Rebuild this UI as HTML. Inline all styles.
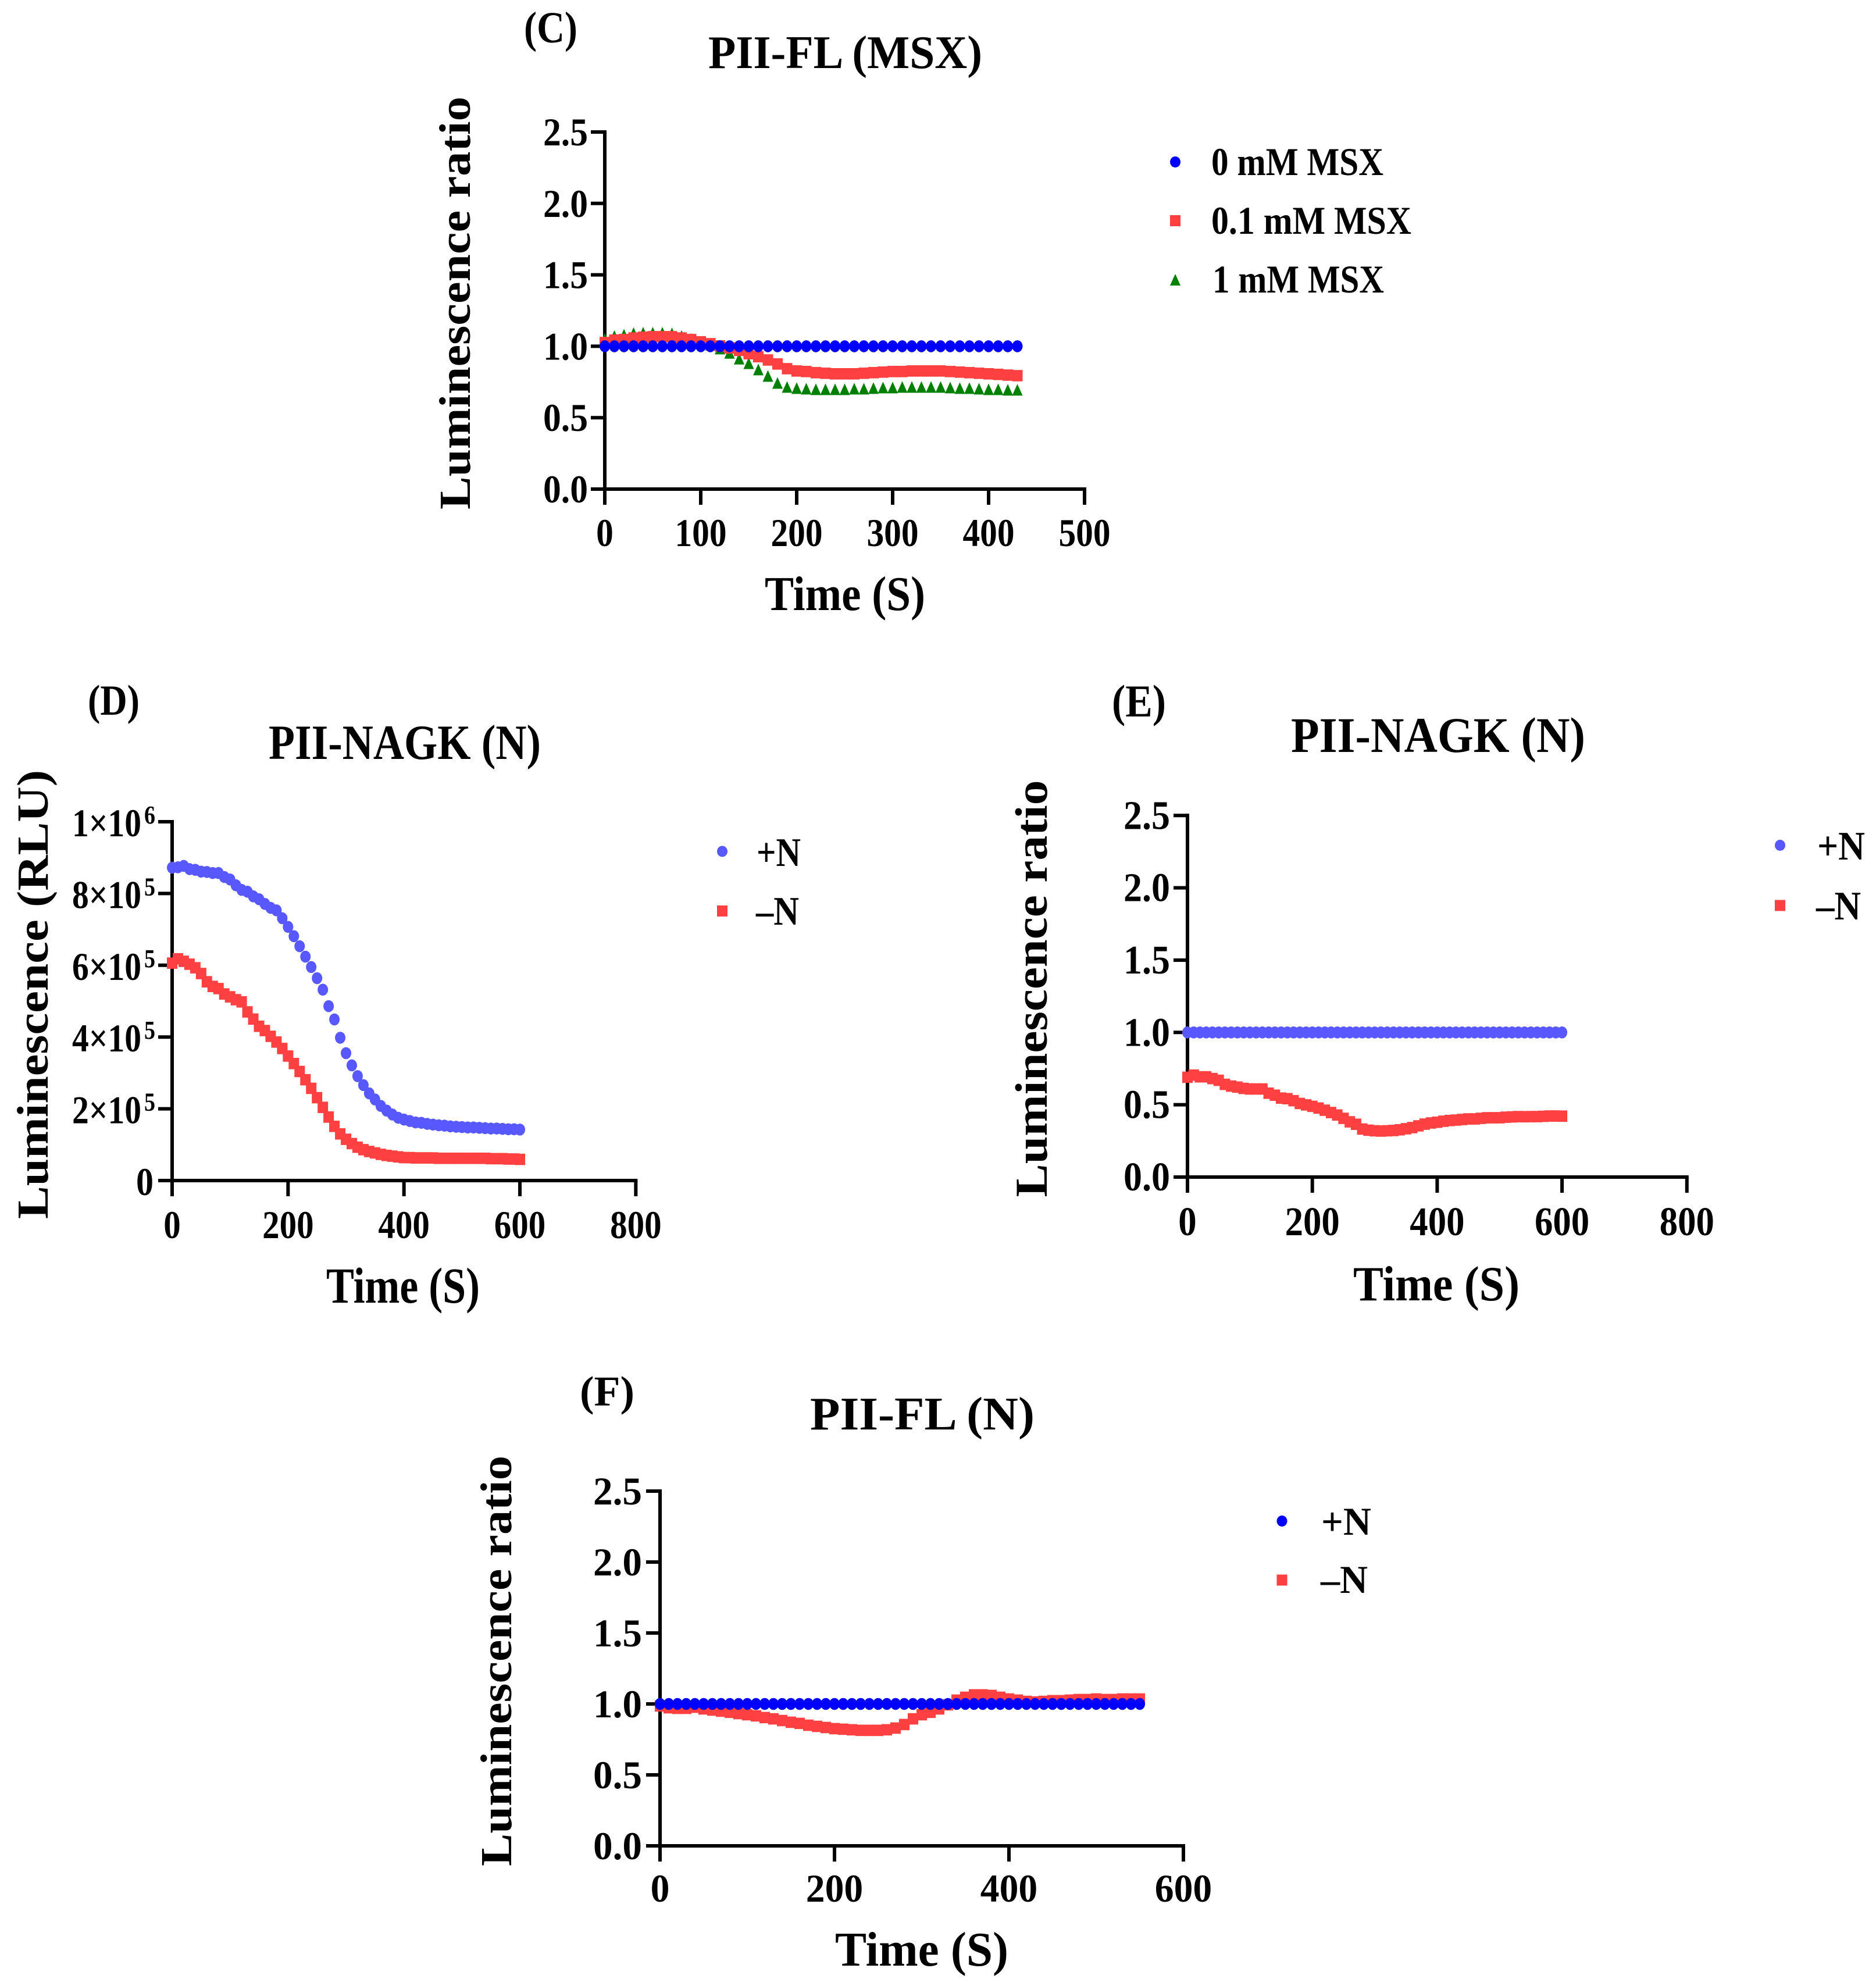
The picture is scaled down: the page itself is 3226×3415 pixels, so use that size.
<!DOCTYPE html>
<html lang="en">
<head>
<meta charset="utf-8">
<title>Luminescence time courses</title>
<style>
html,body{margin:0;padding:0;background:#fff;}
svg{display:block;}
text{font-family:"Liberation Serif","DejaVu Serif",serif;font-weight:bold;fill:#000;}
</style>
</head>
<body>
<svg id="figure" xmlns="http://www.w3.org/2000/svg" width="3226" height="3415" viewBox="0 0 3226 3415">
  <rect x="0" y="0" width="3226" height="3415" fill="#ffffff"/>

  <!-- Panel C -->
  <text x="901" y="73" font-size="76" textLength="92" lengthAdjust="spacingAndGlyphs">(C)</text>
  <text x="1218" y="117" font-size="80" textLength="471" lengthAdjust="spacingAndGlyphs">PII-FL (MSX)</text>
  <text transform="translate(808,521) rotate(-90)" text-anchor="middle" font-size="76" textLength="710" lengthAdjust="spacingAndGlyphs">Luminescence ratio</text>
  <text x="1315" y="1049" font-size="84" textLength="276" lengthAdjust="spacingAndGlyphs">Time (S)</text>
  <g>
    <ellipse cx="2021" cy="278.5" rx="9" ry="9.5" fill="#0000ff"/>
    <text x="2083" y="301" font-size="68" textLength="296" lengthAdjust="spacingAndGlyphs">0 mM MSX</text>
    <rect x="2012" y="370" width="18" height="19" fill="#ff4040"/>
    <text x="2083" y="402" font-size="68" textLength="344" lengthAdjust="spacingAndGlyphs">0.1 mM MSX</text>
    <polygon points="2021,471 2030,491 2012,491" fill="#008000"/>
    <text x="2085" y="503" font-size="68" textLength="295" lengthAdjust="spacingAndGlyphs">1 mM MSX</text>
  </g>

  <!-- Panel D -->
  <text x="151" y="1229" font-size="74" textLength="89" lengthAdjust="spacingAndGlyphs">(D)</text>
  <text x="462" y="1305" font-size="85" textLength="468" lengthAdjust="spacingAndGlyphs">PII-NAGK (N)</text>
  <text transform="translate(82,1710) rotate(-90)" text-anchor="middle" font-size="76" textLength="772" lengthAdjust="spacingAndGlyphs">Luminescence (RLU)</text>
  <text x="561" y="2240" font-size="87" textLength="264" lengthAdjust="spacingAndGlyphs">Time (S)</text>
  <g>
    <ellipse cx="1242" cy="1464" rx="9" ry="9.5" fill="#5858ff"/>
    <text x="1301" y="1489" font-size="70" textLength="76" lengthAdjust="spacingAndGlyphs">+N</text>
    <rect x="1233" y="1557" width="18" height="19" fill="#ff4040"/>
    <text x="1300" y="1590" font-size="70" textLength="74" lengthAdjust="spacingAndGlyphs">–N</text>
  </g>

  <!-- Panel E -->
  <text x="1912" y="1232" font-size="78" textLength="93" lengthAdjust="spacingAndGlyphs">(E)</text>
  <text x="2220" y="1293" font-size="86" textLength="506" lengthAdjust="spacingAndGlyphs">PII-NAGK (N)</text>
  <text transform="translate(1800,1700) rotate(-90)" text-anchor="middle" font-size="78" textLength="717" lengthAdjust="spacingAndGlyphs">Luminescence ratio</text>
  <text x="2327" y="2236" font-size="85" textLength="286" lengthAdjust="spacingAndGlyphs">Time (S)</text>
  <g>
    <ellipse cx="3061" cy="1453.5" rx="9" ry="9.5" fill="#5858ff"/>
    <text x="3125" y="1478" font-size="70" textLength="82" lengthAdjust="spacingAndGlyphs">+N</text>
    <rect x="3052" y="1547.5" width="18" height="19" fill="#ff4040"/>
    <text x="3123" y="1581" font-size="70" textLength="77" lengthAdjust="spacingAndGlyphs">–N</text>
  </g>

  <!-- Panel F -->
  <text x="997" y="2417" font-size="73" textLength="94" lengthAdjust="spacingAndGlyphs">(F)</text>
  <text x="1393" y="2458" font-size="81" textLength="386" lengthAdjust="spacingAndGlyphs">PII-FL (N)</text>
  <text transform="translate(879,2856) rotate(-90)" text-anchor="middle" font-size="76" textLength="706" lengthAdjust="spacingAndGlyphs">Luminescence ratio</text>
  <text x="1436" y="3380" font-size="84" textLength="298" lengthAdjust="spacingAndGlyphs">Time (S)</text>
  <g>
    <ellipse cx="2204.5" cy="2615.5" rx="9" ry="9.5" fill="#0000ff"/>
    <text x="2272" y="2639" font-size="68" textLength="86" lengthAdjust="spacingAndGlyphs">+N</text>
    <rect x="2195.5" y="2707.5" width="18" height="19" fill="#ff4040"/>
    <text x="2271" y="2739" font-size="68" textLength="81" lengthAdjust="spacingAndGlyphs">–N</text>
  </g>
</svg>

<script>
/* ---------- chart data ---------- */
const sampleIntervalSeconds = 10;

const ratioTicks = [0, 0.5, 1, 1.5, 2, 2.5];
const ratioTickLabels = ['0.0', '0.5', '1.0', '1.5', '2.0', '2.5'];

const rluTicks = [0, 2, 4, 6, 8, 10];
const rluTickMantissas = ['0', '2×10', '4×10', '6×10', '8×10', '1×10'];
const rluTickExponents = ['', '5', '5', '5', '5', '6'];

const timeTicksC = [0, 100, 200, 300, 400, 500];
const timeTicksDE = [0, 200, 400, 600, 800];
const timeTicksF = [0, 200, 400, 600];

const msx0 = [1,1,1,1,1,1,1,1,1,1,1,1,1,1,1,1,1,1,1,1,1,1,1,1,1,1,1,1,1,1,1,1,1,1,1,1,1,1,1,1,1,1,1,1];
const msx01 = [1.026,1.043,1.047,1.058,1.063,1.067,1.067,1.067,1.058,1.047,1.031,1.018,1.002,0.988,0.971,0.948,0.927,0.904,0.876,0.843,0.827,0.823,0.815,0.811,0.807,0.807,0.807,0.811,0.815,0.819,0.823,0.823,0.827,0.827,0.827,0.827,0.823,0.819,0.815,0.811,0.807,0.803,0.798,0.794];
const msx1 = [1.052,1.072,1.081,1.092,1.095,1.095,1.095,1.09,1.072,1.052,1.031,1.011,0.984,0.954,0.913,0.881,0.837,0.792,0.743,0.715,0.707,0.703,0.699,0.699,0.699,0.699,0.703,0.703,0.707,0.711,0.711,0.715,0.715,0.715,0.715,0.715,0.711,0.707,0.707,0.703,0.699,0.699,0.695,0.695];

/* Panel D values are in units of 1e5 RLU */
const rluPlusN = [8.72,8.73,8.77,8.68,8.66,8.61,8.60,8.57,8.57,8.46,8.39,8.23,8.10,8.05,7.92,7.84,7.71,7.60,7.53,7.31,7.07,6.81,6.53,6.24,5.95,5.64,5.32,4.86,4.49,3.98,3.55,3.21,2.91,2.66,2.43,2.26,2.08,1.95,1.84,1.75,1.70,1.66,1.62,1.61,1.58,1.56,1.54,1.53,1.51,1.50,1.49,1.48,1.48,1.47,1.46,1.45,1.45,1.44,1.43,1.43,1.42];
const rluMinusN = [6.06,6.18,6.11,6.03,5.93,5.77,5.54,5.41,5.35,5.20,5.12,5.04,4.98,4.70,4.50,4.30,4.18,4.02,3.86,3.68,3.47,3.26,3.04,2.81,2.57,2.31,2.04,1.77,1.51,1.30,1.15,1.03,0.93,0.86,0.81,0.77,0.73,0.70,0.68,0.66,0.64,0.64,0.63,0.63,0.63,0.63,0.62,0.62,0.62,0.62,0.62,0.62,0.62,0.62,0.62,0.61,0.61,0.61,0.60,0.60,0.59];

const nagkPlusN = [1,1,1,1,1,1,1,1,1,1,1,1,1,1,1,1,1,1,1,1,1,1,1,1,1,1,1,1,1,1,1,1,1,1,1,1,1,1,1,1,1,1,1,1,1,1,1,1,1,1,1,1,1,1,1,1,1,1,1,1,1];
const nagkMinusN = [0.690,0.705,0.693,0.693,0.681,0.669,0.641,0.629,0.622,0.613,0.609,0.609,0.609,0.580,0.566,0.546,0.542,0.528,0.509,0.499,0.489,0.477,0.462,0.446,0.429,0.406,0.382,0.365,0.332,0.324,0.320,0.318,0.320,0.322,0.327,0.334,0.342,0.354,0.366,0.374,0.379,0.386,0.391,0.394,0.398,0.402,0.402,0.406,0.410,0.410,0.410,0.414,0.416,0.418,0.417,0.418,0.418,0.420,0.422,0.422,0.421];

const flPlusN = [1,1,1,1,1,1,1,1,1,1,1,1,1,1,1,1,1,1,1,1,1,1,1,1,1,1,1,1,1,1,1,1,1,1,1,1,1,1,1,1,1,1,1,1,1,1,1,1,1,1,1,1,1,1,1,1];
const flMinusN = [0.986,0.973,0.969,0.969,0.977,0.965,0.957,0.949,0.941,0.932,0.924,0.916,0.904,0.895,0.883,0.871,0.863,0.850,0.842,0.834,0.826,0.822,0.818,0.814,0.814,0.814,0.818,0.830,0.855,0.895,0.924,0.941,0.965,0.994,1.027,1.047,1.064,1.064,1.060,1.047,1.035,1.027,1.018,1.014,1.018,1.023,1.023,1.027,1.031,1.031,1.035,1.031,1.031,1.035,1.035,1.035];

/* ---------- drawing ---------- */
const SVGNS = 'http://www.w3.org/2000/svg';
const figure = document.getElementById('figure');
const BLUE = '#0000ff', SOFT_BLUE = '#5858ff', RED = '#ff4040', GREEN = '#008000';

function make(tag, parent) {
  const el = document.createElementNS(SVGNS, tag);
  parent.appendChild(el);
  return el;
}
function line(parent, x1, y1, x2, y2) {
  const el = make('line', parent);
  el.setAttribute('x1', x1); el.setAttribute('y1', y1);
  el.setAttribute('x2', x2); el.setAttribute('y2', y2);
  el.setAttribute('stroke', '#000');
  el.setAttribute('stroke-width', 6);
  return el;
}
function label(parent, x, y, anchor, size, width, str) {
  const el = make('text', parent);
  el.setAttribute('x', x); el.setAttribute('y', y);
  el.setAttribute('text-anchor', anchor);
  el.setAttribute('font-size', size);
  el.setAttribute('textLength', width);
  el.setAttribute('lengthAdjust', 'spacingAndGlyphs');
  el.textContent = str;
  return el;
}

function drawAxes(p) {
  const g = make('g', figure);
  
  
  const xMaxPx = p.x(p.xTicks[p.xTicks.length - 1]);
  const yMaxPx = p.y(p.yTicks[p.yTicks.length - 1]);
  const yAxis = line(g, p.x(0), yMaxPx - 3, p.x(0), p.y(0) + 3);
  
  
  const xAxis = line(g, p.x(0) - 3, p.y(0), xMaxPx + 3, p.y(0));
  
  

  p.xTicks.forEach(function (t) {
    const tick = line(g, p.x(t), p.y(0), p.x(t), p.y(0) + 27);
    
    
    const s = String(t);
    const txt = label(g, p.x(t), p.xLabelBaseline, 'middle', p.tickFont, s.length * p.digitW, s);
    
    
  });

  p.yTicks.forEach(function (t, i) {
    const tick = line(g, p.x(0) - 24, p.y(t), p.x(0), p.y(t));
    
    
    if (p.yExponents) {
      const main = p.yLabels[i];
      const right = main.length > 1 ? 243 : 264;
      const w = main.length > 1 ? 119 : 30;
      const txt = label(g, right, p.y(t) + 25, 'end', p.tickFont, w, main);
      
      
      if (p.yExponents[i]) {
        const ex = label(g, 248, p.y(t) + 3, 'start', 44, 19, p.yExponents[i]);
        
        
      }
    } else {
      const txt = label(g, p.yLabelRight, p.y(t) + 23, 'end', p.tickFont, p.yLabelW, p.yLabels[i]);
      
      
    }
  });
}

function drawSeries(p, name, values, shape, color) {
  const g = make('g', figure);
  
  
  g.setAttribute('fill', color);
  values.forEach(function (v, i) {
    const cx = p.x(i * sampleIntervalSeconds);
    const cy = p.y(v);
    let m;
    if (shape === 'circle') {
      m = make('ellipse', g);
      m.setAttribute('cx', cx); m.setAttribute('cy', cy);
      m.setAttribute('rx', 9); m.setAttribute('ry', 10.3);
    } else if (shape === 'square') {
      m = make('rect', g);
      m.setAttribute('x', cx - 9); m.setAttribute('y', cy - 9.8);
      m.setAttribute('width', 18); m.setAttribute('height', 19.6);
    } else {
      m = make('polygon', g);
      m.setAttribute('points', cx + ',' + (cy - 10) + ' ' + (cx + 9) + ',' + (cy + 10) + ' ' + (cx - 9) + ',' + (cy + 10));
    }
    
    
  });
}

function linearAxis(domainZero, pxZero, pxPerUnit) {
  return function (v) { return pxZero + (v - domainZero) * pxPerUnit; };
}

const panelC = {
  id: 'panel-c', x: linearAxis(0, 1040, 1.65), y: linearAxis(0, 841, -245.6),
  xTicks: timeTicksC, yTicks: ratioTicks, yLabels: ratioTickLabels,
  tickFont: 68, digitW: 29.7, xLabelBaseline: 939, yLabelRight: 1011, yLabelW: 77
};
const panelD = {
  id: 'panel-d', x: linearAxis(0, 296, 0.9967), y: linearAxis(0, 2030, -61.7),
  xTicks: timeTicksDE, yTicks: rluTicks, yLabels: rluTickMantissas, yExponents: rluTickExponents,
  tickFont: 68, digitW: 29.5, xLabelBaseline: 2129
};
const panelE = {
  id: 'panel-e', x: linearAxis(0, 2042, 1.0735), y: linearAxis(0, 2024, -248.7),
  xTicks: timeTicksDE, yTicks: ratioTicks, yLabels: ratioTickLabels,
  tickFont: 70, digitW: 31.4, xLabelBaseline: 2124, yLabelRight: 2012, yLabelW: 80
};
const panelF = {
  id: 'panel-f', x: linearAxis(0, 1135, 1.5), y: linearAxis(0, 3174, -244),
  xTicks: timeTicksF, yTicks: ratioTicks, yLabels: ratioTickLabels,
  tickFont: 68, digitW: 32.8, xLabelBaseline: 3270, yLabelRight: 1104, yLabelW: 84
};

drawAxes(panelC);
drawSeries(panelC, '1-mm-msx', msx1, 'triangle', GREEN);
drawSeries(panelC, '0-1-mm-msx', msx01, 'square', RED);
drawSeries(panelC, '0-mm-msx', msx0, 'circle', BLUE);

drawAxes(panelD);
drawSeries(panelD, 'plus-n', rluPlusN, 'circle', SOFT_BLUE);
drawSeries(panelD, 'minus-n', rluMinusN, 'square', RED);

drawAxes(panelE);
drawSeries(panelE, 'plus-n', nagkPlusN, 'circle', SOFT_BLUE);
drawSeries(panelE, 'minus-n', nagkMinusN, 'square', RED);

drawAxes(panelF);
drawSeries(panelF, 'minus-n', flMinusN, 'square', RED);
drawSeries(panelF, 'plus-n', flPlusN, 'circle', BLUE);
</script>
</body>
</html>
